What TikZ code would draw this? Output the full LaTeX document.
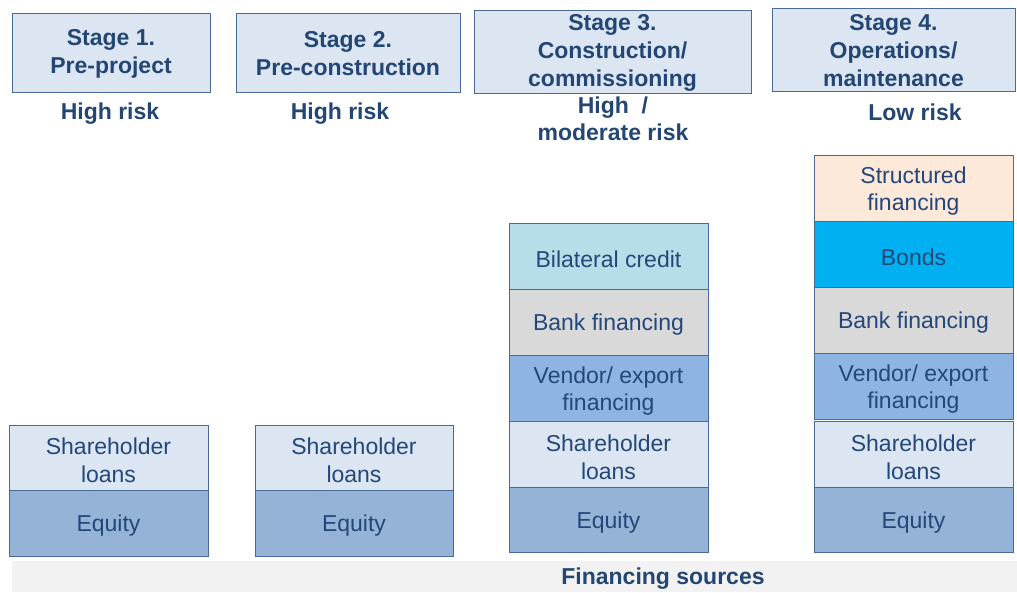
\documentclass[tikz,border=0pt]{standalone}
\usepackage{fontspec}
\setmainfont{Liberation Sans}
\definecolor{navy}{HTML}{24477A}
\definecolor{headnavy}{HTML}{234674}
\definecolor{boxline}{HTML}{4A6A96}
\definecolor{headfill}{HTML}{DCE6F2}
\definecolor{loanfill}{HTML}{DCE6F2}
\definecolor{equityfill}{HTML}{95B3D7}
\definecolor{vendorfill}{HTML}{8EB4E3}
\definecolor{bankfill}{HTML}{D9D9D9}
\definecolor{bilatfill}{HTML}{B7DEE8}
\definecolor{bondfill}{HTML}{00B0F0}
\definecolor{structfill}{HTML}{FDE9D9}
\definecolor{bandfill}{HTML}{F2F2F2}
% a rectangular block given by its corners, with its text set slightly low:
% name, x1, y1, x2, y2, box style, text style, text
\newcommand\blockat[8]{%
  \node[#6, minimum width={#4-#2}, minimum height={#5-#3}]
    (#1) at ({(#2+#4)/2},{(#3+#5)/2}) {};
  \node[#7] (#1-t) at ({(#2+#4)/2},{(#3+#5)/2+3}) {#8};}
\begin{document}
\begin{tikzpicture}[x=1pt,y=-1pt,
  txt/.style={inner sep=0pt, align=center, text=navy,
    font=\fontsize{23}{27.6}\selectfont},
  head/.style={txt, yshift=2pt, text=headnavy,
    font=\fontsize{23}{28}\selectfont\bfseries},
  layer/.style={inner sep=0pt, draw=boxline, line width=1pt},
  stagebox/.style={layer, fill=headfill},
  risk/.style={txt, text=headnavy, font=\fontsize{23}{27}\selectfont\bfseries},
  loans/.style={layer, fill=loanfill},
  equity/.style={layer, fill=equityfill},
  vendor/.style={layer, fill=vendorfill},
  bank/.style={layer, fill=bankfill},
  bilat/.style={layer, fill=bilatfill},
  bonds/.style={layer, fill=bondfill},
  struct/.style={layer, fill=structfill},
]
\useasboundingbox (0,0) rectangle (1017,592);

% stage headers
\blockat{s1}{12}{13}{210}{92}{stagebox}{head}{Stage 1.\\Pre-project}
\blockat{s2}{236}{13}{460}{92}{stagebox}{head}{Stage 2.\\Pre-construction}
\blockat{s3}{474}{10}{751}{93}{stagebox}{head}{Stage 3.\\Construction/\\commissioning}
\blockat{s4}{772}{8}{1015}{91}{stagebox}{head}{Stage 4.\\Operations/\\maintenance}

% risk levels
\node[risk] (r1) at (110,114) {High risk};
\node[risk] (r2) at (340,114) {High risk};
\node[risk] (r3) at (613,119) {High\ \ /\\moderate risk};
\node[risk] (r4) at (915,112) {Low risk};

% financing stacks
\blockat{c1l}{9}{425}{208}{490}{loans}{txt}{Shareholder\\loans}
\blockat{c1e}{9}{490}{208}{556}{equity}{txt}{Equity}

\blockat{c2l}{255}{425}{453}{490}{loans}{txt}{Shareholder\\loans}
\blockat{c2e}{255}{490}{453}{556}{equity}{txt}{Equity}

\blockat{c3c}{509}{223}{708}{289}{bilat}{txt}{Bilateral credit}
\blockat{c3b}{509}{289}{708}{355}{bank}{txt}{Bank financing}
\blockat{c3v}{509}{355}{708}{421}{vendor}{txt}{Vendor/ export\\financing}
\blockat{c3l}{509}{421}{708}{487}{loans}{txt}{Shareholder\\loans}
\blockat{c3e}{509}{487}{708}{552}{equity}{txt}{Equity}

\blockat{c4s}{814}{155}{1013}{221}{struct}{txt}{Structured\\financing}
\blockat{c4d}{814}{221}{1013}{287}{bonds}{txt}{Bonds}
\blockat{c4b}{814}{287}{1013}{353}{bank}{txt}{Bank financing}
\blockat{c4v}{814}{353}{1013}{419}{vendor}{txt}{Vendor/ export\\financing}
\blockat{c4l}{814}{421}{1013}{487}{loans}{txt}{Shareholder\\loans}
\blockat{c4e}{814}{487}{1013}{552}{equity}{txt}{Equity}

% base band
\fill[bandfill] (12,561) rectangle (1017,592);
\node[risk] (fs) at (663,579) {Financing sources};
\end{tikzpicture}
\end{document}
